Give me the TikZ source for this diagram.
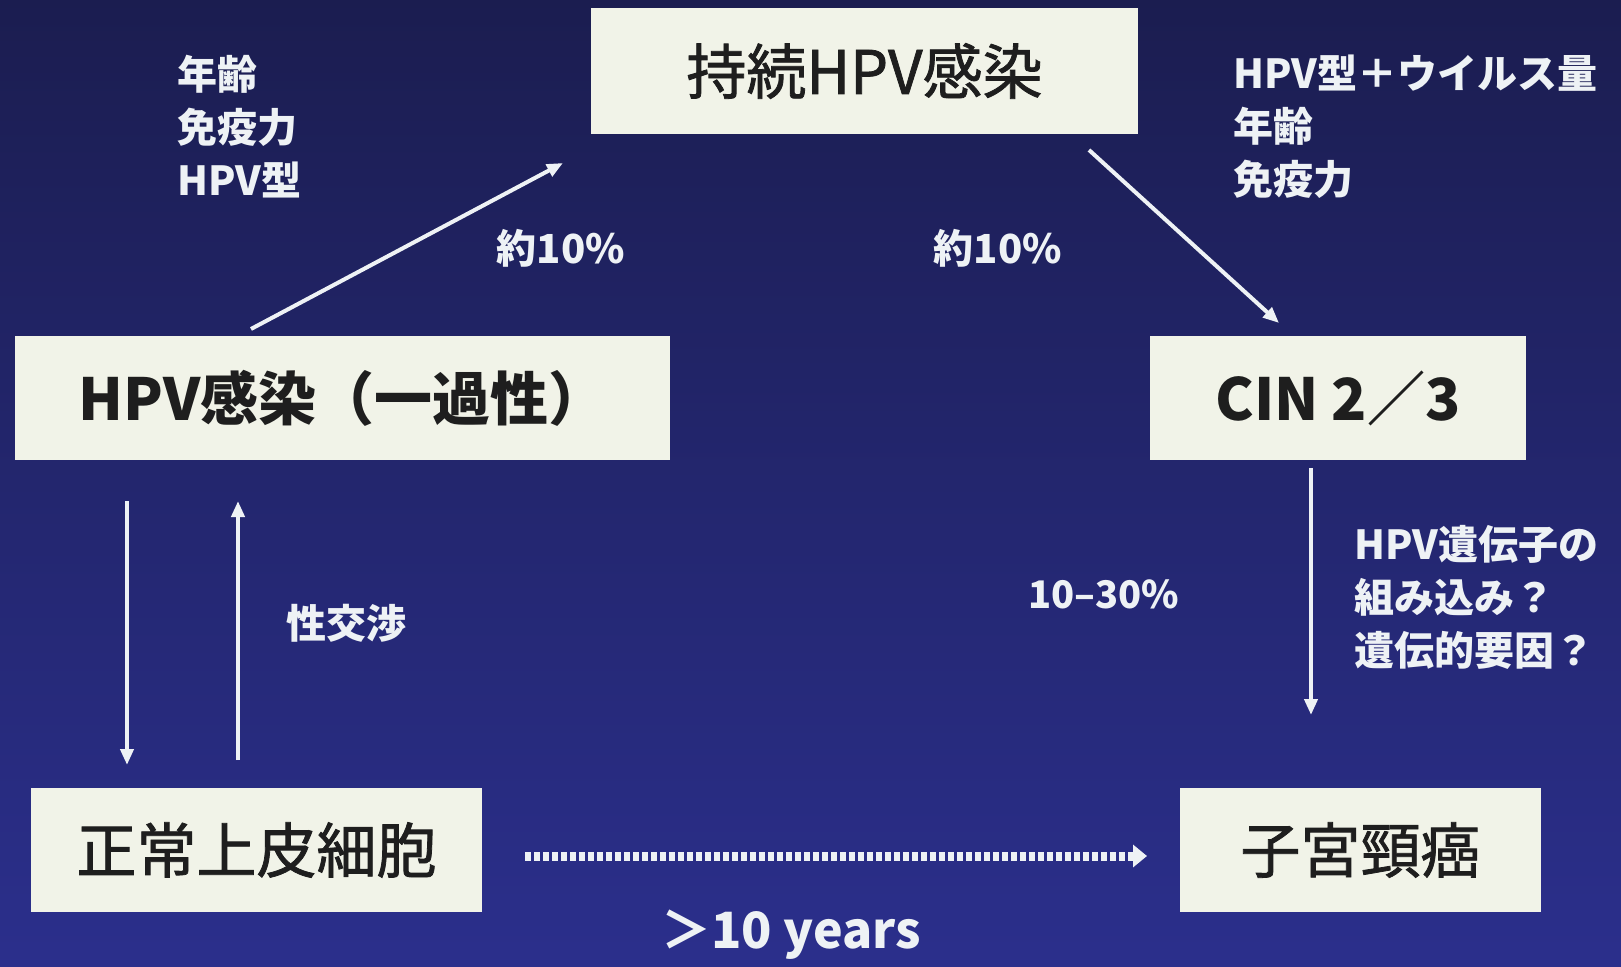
\documentclass[tikz,border=0pt]{standalone}
\usepackage{fontspec}
\setmainfont{Noto Sans CJK JP}
\newfontfamily\medfont[FakeBold=1.3]{Noto Sans CJK JP}
\usetikzlibrary{arrows.meta}
\definecolor{bgtop}{HTML}{1B1D50}
\definecolor{bgbot}{HTML}{2B2F8C}
\definecolor{boxfill}{HTML}{F1F3E8}
\definecolor{boxtext}{HTML}{1E1E1E}
\definecolor{lbl}{HTML}{EEF2F5}
\tikzset{
  stagebox/.style={fill=boxfill, inner sep=0pt, text=boxtext, font=\medfont\fontsize{60}{72}\selectfont},
  boldbox/.style={stagebox, font=\bfseries\fontsize{58}{72}\selectfont},
  lab/.style={text=lbl, inner sep=0pt, font=\bfseries\fontsize{40}{53}\selectfont, align=left},
  arr/.style={draw=lbl, line width=4pt, -{Triangle[length=16pt,width=13pt]}},
  dotarr/.style={draw=lbl, line width=9pt, dash pattern=on 6pt off 3pt, -{Triangle[length=14pt,width=22pt]}}
}
\begin{document}
\begin{tikzpicture}[x=1pt,y=-1pt]
\useasboundingbox (0,0) rectangle (1621,966);
\shade[top color=bgtop, bottom color=bgbot] (0,0) rectangle (1621,966);

% boxes
\node[stagebox, minimum width=547pt, minimum height=126pt] (pers) at (864.5,71) {持続HPV感染};
\node[boldbox, minimum width=655pt, minimum height=124pt] (trans) at (342.5,398) {HPV感染（一過性）};
\node[boldbox, minimum width=376pt, minimum height=124pt] (cin) at (1338,398) {CIN 2／3};
\node[stagebox, minimum width=451pt, minimum height=124pt] (norm) at (256.5,850) {正常上皮細胞};
\node[stagebox, minimum width=361pt, minimum height=124pt] (canc) at (1360.5,850) {子宮頸癌};

% arrow end points
\coordinate (d1s) at (251,329);
\coordinate (d1e) at (563,163);
\coordinate (d2s) at (1089,150);
\coordinate (d2e) at (1279,323);
\coordinate (v1s) at (127,501);
\coordinate (v1e) at (127,765);
\coordinate (v2s) at (238,760);
\coordinate (v2e) at (238,501);
\coordinate (v3s) at (1311,468);
\coordinate (v3e) at (1311,715);
\coordinate (hs) at (525,856);
\coordinate (he) at (1147,856);

\draw[arr] (d1s) -- (d1e);
\draw[arr] (d2s) -- (d2e);
\draw[arr] (v1s) -- (v1e);
\draw[arr] (v2s) -- (v2e);
\draw[arr] (v3s) -- (v3e);
\draw[dotarr] (hs) -- (he);

% labels
\node[lab, anchor=west] (lf) at (177,127) {年齢\\免疫力\\HPV型};
\node[lab, anchor=west] (rf) at (1233,127) {HPV型＋ウイルス量\\年齢\\免疫力};
\node[lab, anchor=west] (gf) at (1354,597) {HPV遺伝子の\\組み込み？\\遺伝的要因？};
\node[lab] (p1) at (561,248) {約10\%};
\node[lab] (p2) at (998,248) {約10\%};
\node[lab] (sx) at (346,623) {性交渉};
\node[lab, font=\bfseries\fontsize{38}{53}\selectfont] (p3) at (1104,594) {10–30\%};
\node[lab, font=\bfseries\fontsize{50}{60}\selectfont] (yr) at (791,935) {＞10 years};
\end{tikzpicture}
\end{document}
